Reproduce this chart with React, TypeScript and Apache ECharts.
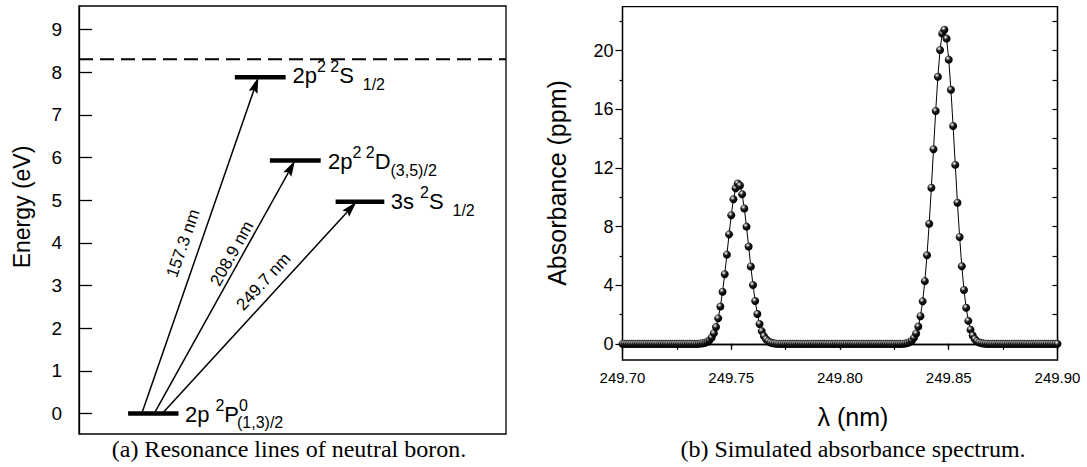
import React, { useEffect, useRef } from "react";
import * as echarts from "echarts";

const SANS = "'Liberation Sans', Arial, Helvetica, sans-serif";
const SERIF = "'Liberation Serif', 'Times New Roman', serif";

// ---------- Panel (a): resonance lines of neutral boron ----------
const energyTicks = [0, 1, 2, 3, 4, 5, 6, 7, 8, 9];
const ionizationLimit = 8.3;
const levelEnergy = [0, 7.88, 5.93, 4.96];
const levelFrom = [1.15, 3.65, 4.47, 6.01];
const levelTo = [2.33, 4.84, 5.66, 7.15];
const levelLabelText = [
  "{m|2p }{sp|2}{m|P}{sp|0}",
  "{m|2p}{sp|2} {sp|2}{m|S}{sb|  1/2}",
  "{m|2p}{sp|2} {sp|2}{m|D}{sb|(3,5)/2}",
  "{m|3s }{sp|2}{m|S}{sb|  1/2}",
  "{sb|(1,3)/2}",
];
const levelLabelPos = [
  [2.48, -0.03],
  [5.0, 7.91],
  [5.83, 5.9],
  [7.3, 4.97],
  [3.7, -0.24],
];
const lineNames = ["157.3 nm", "208.9 nm", "249.7 nm"];
const lineFromX = [1.47, 1.76, 1.95];
const lineToX = [4.2, 5.06, 6.5];
const lineToE = [7.88, 5.93, 4.96];
const lineLabelPos = [
  [2.44, 3.99],
  [3.58, 3.75],
  [4.32, 3.09],
];

// ---------- Panel (b): simulated absorbance spectrum ----------
const wavelength = [
  249.700, 249.701, 249.702, 249.703, 249.704, 249.705, 249.706, 249.707, 249.708, 249.709,
  249.710, 249.711, 249.712, 249.713, 249.714, 249.715, 249.716, 249.717, 249.718, 249.719,
  249.720, 249.721, 249.722, 249.723, 249.724, 249.725, 249.726, 249.727, 249.728, 249.729,
  249.730, 249.731, 249.732, 249.733, 249.734, 249.735, 249.736, 249.737, 249.738, 249.739,
  249.740, 249.741, 249.742, 249.743, 249.744, 249.745, 249.746, 249.747, 249.748, 249.749,
  249.750, 249.751, 249.752, 249.753, 249.754, 249.755, 249.756, 249.757, 249.758, 249.759,
  249.760, 249.761, 249.762, 249.763, 249.764, 249.765, 249.766, 249.767, 249.768, 249.769,
  249.770, 249.771, 249.772, 249.773, 249.774, 249.775, 249.776, 249.777, 249.778, 249.779,
  249.780, 249.781, 249.782, 249.783, 249.784, 249.785, 249.786, 249.787, 249.788, 249.789,
  249.790, 249.791, 249.792, 249.793, 249.794, 249.795, 249.796, 249.797, 249.798, 249.799,
  249.800, 249.801, 249.802, 249.803, 249.804, 249.805, 249.806, 249.807, 249.808, 249.809,
  249.810, 249.811, 249.812, 249.813, 249.814, 249.815, 249.816, 249.817, 249.818, 249.819,
  249.820, 249.821, 249.822, 249.823, 249.824, 249.825, 249.826, 249.827, 249.828, 249.829,
  249.830, 249.831, 249.832, 249.833, 249.834, 249.835, 249.836, 249.837, 249.838, 249.839,
  249.840, 249.841, 249.842, 249.843, 249.844, 249.845, 249.846, 249.847, 249.848, 249.849,
  249.850, 249.851, 249.852, 249.853, 249.854, 249.855, 249.856, 249.857, 249.858, 249.859,
  249.860, 249.861, 249.862, 249.863, 249.864, 249.865, 249.866, 249.867, 249.868, 249.869,
  249.870, 249.871, 249.872, 249.873, 249.874, 249.875, 249.876, 249.877, 249.878, 249.879,
  249.880, 249.881, 249.882, 249.883, 249.884, 249.885, 249.886, 249.887, 249.888, 249.889,
  249.890, 249.891, 249.892, 249.893, 249.894, 249.895, 249.896, 249.897, 249.898, 249.899,
  249.900,
];
const absorbance = [
  0, 0, 0, 0, 0, 0, 0, 0, 0, 0,
  0, 0, 0, 0, 0, 0, 0, 0, 0, 0,
  0, 0, 0, 0, 0, 0, 0, 0, 0, 0,
  0, 0, 0, 0, 0, 0.01, 0.02, 0.04, 0.07, 0.14,
  0.25, 0.43, 0.72, 1.15, 1.74, 2.55, 3.56, 4.75, 6.09, 7.47,
  8.77, 9.86, 10.61, 10.94, 10.8, 10.21, 9.24, 8.0, 6.64, 5.28,
  4.01, 2.92, 2.04, 1.36, 0.87, 0.53, 0.31, 0.18, 0.09, 0.05,
  0.02, 0.01, 0, 0, 0, 0, 0, 0, 0, 0,
  0, 0, 0, 0, 0, 0, 0, 0, 0, 0,
  0, 0, 0, 0, 0, 0, 0, 0, 0, 0,
  0, 0, 0, 0, 0, 0, 0, 0, 0, 0,
  0, 0, 0, 0, 0, 0, 0, 0, 0, 0,
  0, 0, 0, 0, 0, 0, 0, 0, 0, 0.01,
  0.03, 0.06, 0.12, 0.22, 0.41, 0.71, 1.18, 1.89, 2.9, 4.28,
  6.04, 8.19, 10.65, 13.28, 15.88, 18.22, 20.05, 21.17, 21.43, 20.82,
  19.39, 17.33, 14.86, 12.21, 9.63, 7.29, 5.29, 3.68, 2.46, 1.57,
  0.97, 0.57, 0.32, 0.17, 0.09, 0.05, 0.02, 0.01, 0, 0,
  0, 0, 0, 0, 0, 0, 0, 0, 0, 0,
  0, 0, 0, 0, 0, 0, 0, 0, 0, 0,
  0, 0, 0, 0, 0, 0, 0, 0, 0, 0,
  0,
];
const absMajorTicks = [0, 4, 8, 12, 16, 20];
const absMinorTicks = [2, 6, 10, 14, 18, 22];
const absRightTicks = [0, 2, 4, 6, 8, 10, 12, 14, 16, 18, 20, 22];

const hidden = {
  axisLine: { show: false },
  axisTick: { show: false },
  axisLabel: { show: false },
  splitLine: { show: false },
};
const blackLine = { show: true, lineStyle: { color: "#000", width: 1.3 } };

function buildOption() {
  const richStyles = {
    m: { fontFamily: SANS, fill: "#000", fontSize: 22, lineHeight: 34 },
    sp: { fontFamily: SANS, fill: "#000", fontSize: 16, lineHeight: 17, verticalAlign: "top" },
    sb: { fontFamily: SANS, fill: "#000", fontSize: 16, lineHeight: 13, verticalAlign: "bottom" },
  };
  return {
    animation: false,
    backgroundColor: "#fff",
    grid: [
      { left: 79, top: 6, width: 427, height: 428, show: true, borderColor: "#000", borderWidth: 1.3, containLabel: false },
      { left: 622.5, top: 6.7, width: 435, height: 353.3, show: true, borderColor: "#000", borderWidth: 1.3, containLabel: false },
    ],
    xAxis: [
      { type: "value", gridIndex: 0, min: 0, max: 10, ...hidden },
      {
        type: "value",
        gridIndex: 1,
        position: "bottom",
        min: 249.7,
        max: 249.9,
        interval: 0.05,
        axisLine: blackLine,
        axisTick: { show: true, inside: false, length: 5, lineStyle: { color: "#000", width: 1.2 } },
        minorTick: { show: true, splitNumber: 2, length: 3.5, lineStyle: { color: "#000", width: 1.2 } },
        axisLabel: {
          show: true,
          margin: 10,
          fontSize: 15,
          fontFamily: SANS,
          color: "#000",
          formatter: (v: number) => v.toFixed(2),
        },
        splitLine: { show: false },
      },
      {
        type: "value",
        gridIndex: 1,
        position: "top",
        min: 249.7,
        max: 249.9,
        interval: 0.025,
        axisLine: blackLine,
        axisTick: { show: true, inside: true, length: 6, lineStyle: { color: "#000", width: 1.2 } },
        axisLabel: { show: false },
        splitLine: { show: false },
      },
    ],
    yAxis: [
      {
        type: "value",
        gridIndex: 0,
        min: -0.48,
        max: 9.55,
        axisLine: blackLine,
        axisTick: { show: true, inside: true, length: 13, customValues: energyTicks, lineStyle: { color: "#000", width: 1.3 } },
        axisLabel: { show: true, customValues: energyTicks, margin: 17, fontSize: 19, fontFamily: SANS, color: "#000" },
        splitLine: { show: false },
      },
      {
        type: "value",
        gridIndex: 1,
        position: "left",
        min: -1.1,
        max: 23,
        axisLine: blackLine,
        axisTick: { show: true, inside: false, length: 7, customValues: absMajorTicks, lineStyle: { color: "#000", width: 1.2 } },
        axisLabel: { show: true, customValues: absMajorTicks, margin: 9, fontSize: 18, fontFamily: SANS, color: "#000" },
        splitLine: { show: false },
      },
      {
        type: "value",
        gridIndex: 1,
        position: "left",
        min: -1.1,
        max: 23,
        axisLine: { show: false },
        axisTick: { show: true, inside: false, length: 3, customValues: absMinorTicks, lineStyle: { color: "#000", width: 1.2 } },
        axisLabel: { show: false },
        splitLine: { show: false },
      },
      {
        type: "value",
        gridIndex: 1,
        position: "right",
        min: -1.1,
        max: 23,
        axisLine: blackLine,
        axisTick: { show: true, inside: true, length: 5, customValues: absRightTicks, lineStyle: { color: "#000", width: 1.2 } },
        axisLabel: { show: false },
        splitLine: { show: false },
      },
    ],
    series: [
      {
        type: "line",
        name: "ionization limit",
        xAxisIndex: 0,
        yAxisIndex: 0,
        data: [
          [0, ionizationLimit],
          [10, ionizationLimit],
        ],
        symbol: "none",
        silent: true,
        lineStyle: { color: "#000", width: 2, type: [14, 7] },
      },
      {
        type: "custom",
        name: "levels",
        xAxisIndex: 0,
        yAxisIndex: 0,
        silent: true,
        data: levelEnergy.map((e, i) => [levelFrom[i], levelTo[i], e]),
        renderItem: (_params: any, api: any) => {
          const a = api.coord([api.value(0), api.value(2)]);
          const b = api.coord([api.value(1), api.value(2)]);
          return {
            type: "rect",
            shape: { x: a[0], y: a[1] - 2.25, width: b[0] - a[0], height: 4.5 },
            style: { fill: "#000" },
          };
        },
      },
      {
        type: "custom",
        name: "transitions",
        xAxisIndex: 0,
        yAxisIndex: 0,
        silent: true,
        data: lineNames.map((_, i) => [lineFromX[i], 0, lineToX[i], lineToE[i], lineLabelPos[i][0], lineLabelPos[i][1]]),
        renderItem: (params: any, api: any) => {
          const i = params.dataIndex;
          const p1 = api.coord([api.value(0), api.value(1)]);
          const p2 = api.coord([api.value(2), api.value(3)]);
          const lp = api.coord([api.value(4), api.value(5)]);
          const dx = p2[0] - p1[0];
          const dy = p2[1] - p1[1];
          const len = Math.sqrt(dx * dx + dy * dy);
          const ux = dx / len;
          const uy = dy / len;
          const nx = -uy;
          const ny = ux;
          const headLen = 16;
          const headHalf = 4.6;
          const notch = 2.5;
          const bx = p2[0] - ux * headLen;
          const by = p2[1] - uy * headLen;
          const ix = p2[0] - ux * (headLen - notch);
          const iy = p2[1] - uy * (headLen - notch);
          return {
            type: "group",
            children: [
              {
                type: "line",
                shape: { x1: p1[0], y1: p1[1], x2: ix, y2: iy },
                style: { stroke: "#000", lineWidth: 1.5 },
              },
              {
                type: "polygon",
                shape: {
                  points: [
                    [p2[0], p2[1]],
                    [bx + nx * headHalf, by + ny * headHalf],
                    [ix, iy],
                    [bx - nx * headHalf, by - ny * headHalf],
                  ],
                },
                style: { fill: "#000" },
              },
              {
                type: "text",
                x: lp[0],
                y: lp[1],
                rotation: Math.atan2(-dy, dx),
                style: {
                  text: lineNames[i],
                  fontSize: 17,
                  fontFamily: SANS,
                  fill: "#000",
                  align: "center",
                  verticalAlign: "middle",
                },
              },
            ],
          };
        },
      },
      {
        type: "custom",
        name: "level labels",
        xAxisIndex: 0,
        yAxisIndex: 0,
        silent: true,
        data: levelLabelPos.map((p) => [p[0], p[1]]),
        renderItem: (params: any, api: any) => {
          const p = api.coord([api.value(0), api.value(1)]);
          return {
            type: "text",
            x: p[0],
            y: p[1],
            style: {
              text: levelLabelText[params.dataIndex],
              rich: richStyles,
              fontSize: 16,
              lineHeight: 17,
              fontFamily: SANS,
              fill: "#000",
              align: "left",
              verticalAlign: "middle",
            },
          };
        },
      },
      {
        type: "line",
        name: "absorbance",
        xAxisIndex: 1,
        yAxisIndex: 1,
        data: wavelength.map((w, i) => [w, absorbance[i]]),
        symbol: "circle",
        symbolSize: 8,
        showSymbol: true,
        showAllSymbol: true,
        silent: true,
        lineStyle: { color: "#000", width: 1 },
        itemStyle: {
          color: {
            type: "radial",
            x: 0.38,
            y: 0.32,
            r: 0.62,
            colorStops: [
              { offset: 0, color: "#ffffff" },
              { offset: 0.22, color: "#9a9a9a" },
              { offset: 0.5, color: "#1a1a1a" },
              { offset: 1, color: "#000000" },
            ],
          },
          borderWidth: 0,
        },
      },
    ],
    graphic: [
      {
        type: "text",
        x: 22,
        y: 207,
        rotation: Math.PI / 2,
        style: { text: "Energy (eV)", fontSize: 23, fontFamily: SANS, fill: "#000", align: "center", verticalAlign: "middle", textAlign: "center", textVerticalAlign: "middle" },
      },
      {
        type: "text",
        x: 557,
        y: 183,
        rotation: Math.PI / 2,
        style: { text: "Absorbance (ppm)", fontSize: 25, fontFamily: SANS, fill: "#000", align: "center", verticalAlign: "middle", textAlign: "center", textVerticalAlign: "middle" },
      },
      {
        type: "text",
        x: 853,
        y: 417,
        style: { text: "λ (nm)", fontSize: 25, fontFamily: SANS, fill: "#000", align: "center", verticalAlign: "middle", textAlign: "center", textVerticalAlign: "middle" },
      },
      {
        type: "text",
        x: 289,
        y: 449,
        style: { text: "(a) Resonance lines of neutral boron.", fontSize: 24, fontFamily: SERIF, fill: "#000", align: "center", verticalAlign: "middle", textAlign: "center", textVerticalAlign: "middle" },
      },
      {
        type: "text",
        x: 853,
        y: 448.5,
        style: { text: "(b) Simulated absorbance spectrum.", fontSize: 24, fontFamily: SERIF, fill: "#000", align: "center", verticalAlign: "middle", textAlign: "center", textVerticalAlign: "middle" },
      },
    ],
  };
}

export default function App() {
  const ref = useRef<HTMLDivElement>(null);
  useEffect(() => {
    document.body.style.margin = "0";
    const chart = echarts.init(ref.current as HTMLDivElement, null, { renderer: "svg" });
    chart.setOption(buildOption() as any);
    return () => chart.dispose();
  }, []);
  return <div ref={ref} style={{ width: 1087, height: 467 }} />;
}
